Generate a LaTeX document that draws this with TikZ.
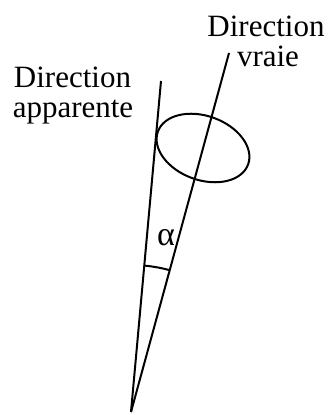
\documentclass[tikz,border=0pt]{standalone}
\usepackage{fontspec}
\setmainfont{Liberation Serif}
\begin{document}
\begin{tikzpicture}[x=1pt,y=1pt,
  lbl/.style={anchor=base,inner sep=0pt,font=\fontsize{31}{36}\selectfont},
  stroke/.style={line width=2pt}]
\useasboundingbox (0,0) rectangle (330,415);
\coordinate (apex) at (131,3);
\coordinate (apptop) at (161,334);
\coordinate (truetop) at (229,362);
\draw[stroke] (apex) -- (apptop);
\draw[stroke] (apex) -- (truetop);
\draw[stroke] (203,267) ellipse[x radius=48, y radius=32, rotate=-20];
\draw[stroke] (apex) ++(84.8:147) arc[start angle=84.8, end angle=74.7, radius=147];
\node[lbl,font=\fontsize{34}{38}\selectfont] (alpha) at (166,169) {α};
\node[lbl] (d1) at (266,378) {Direction};
\node[lbl] (v1) at (268,348) {vraie};
\node[lbl] (d2) at (72.5,327) {Direction};
\node[lbl] (a2) at (73,297) {apparente};
\end{tikzpicture}
\end{document}
